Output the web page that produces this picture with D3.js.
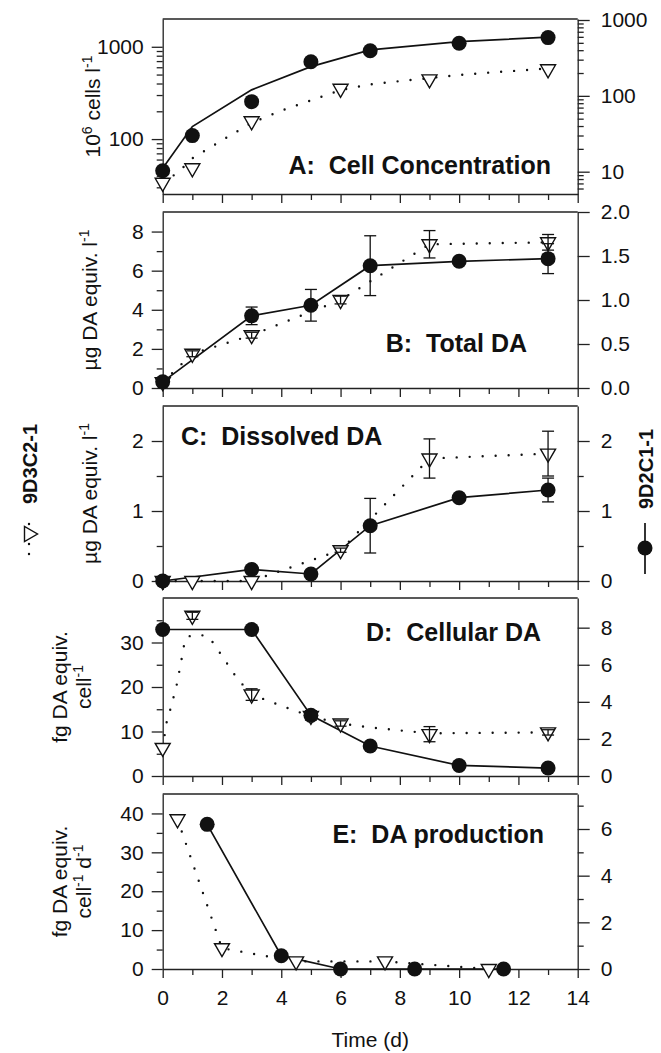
<!DOCTYPE html>
<html>
<head>
<meta charset="utf-8">
<script src="https://cdn.jsdelivr.net/npm/d3@7"></script>
<style>
  body { margin: 0; background: #fff; }
  svg text { font-family: "Liberation Sans", Arial, Helvetica, sans-serif; fill: #111; white-space: pre; }
</style>
</head>
<body>
<div id="chart"></div>
<script>
// ---- values ----
// circles = 9D2C1-1 (right axis), triangles = 9D3C2-1 (left axis)

// A: cell concentration (10^6 cells/l)
var cellDaysCirc = [0, 1, 3, 5, 7, 10, 13];
var cellCirc     = [10.3, 29.9, 83.8, 282, 394, 494, 586];
var cellFitCirc  = [11.1, 39.3, 120, 243, 403, 519, 593];
var cellDaysTri  = [0, 1, 3, 6, 9, 13];
var cellTri      = [33.6, 48.3, 156, 351, 443, 570];
var cellFitDaysTri = [0, 0.5, 1, 2, 3, 4, 5, 6, 7, 8, 9, 10, 11, 12, 13];
var cellFitTri     = [34, 43, 62, 97, 150, 203, 262, 340, 391, 425, 458, 495, 525, 552, 582];

// B: total DA
var totalDaysCirc = [0, 3, 5, 7, 10, 13];
var totalCirc     = [0.07, 0.82, 0.94, 1.39, 1.44, 1.47];
var totalCircErr  = [0, 0.1, 0.18, 0.34, 0.03, 0.17];
var totalDaysTri  = [0, 1, 3, 6, 9, 13];
var totalTri      = [0.3, 1.75, 2.7, 4.5, 7.35, 7.45];
var totalTriErr   = [0, 0.15, 0.15, 0.2, 0.7, 0.4];

// C: dissolved DA
var dissDaysCirc = [0, 3, 5, 7, 10, 13];
var dissCirc     = [0, 0.165, 0.1, 0.79, 1.19, 1.3];
var dissCircErr  = [0, 0.05, 0, 0.39, 0.02, 0.17];
var dissDaysTri  = [0, 1, 3, 6, 9, 13];
var dissTri      = [0, 0, 0, 0.44, 1.75, 1.82];
var dissTriErr   = [0, 0, 0, 0.03, 0.28, 0.32];

// D: cellular DA
var cellularDaysCirc = [0, 3, 5, 7, 10, 13];
var cellularCirc     = [7.9, 7.9, 3.27, 1.62, 0.57, 0.43];
var cellularCircErr  = [0, 0, 0.25, 0, 0, 0];
var cellularDaysTri  = [0, 1, 3, 5, 6, 9, 13];
var cellularTri      = [6.3, 36, 18.3, 13.5, 11.8, 9.4, 9.8];
var cellularTriErr   = [0, 0.8, 1.3, 0, 0.6, 1.7, 0.6];
var cellularFitDaysTri = [0, 0.13, 0.28, 0.47, 0.62, 0.72, 0.81, 1.2, 1.56, 2, 2.5, 3, 4, 5, 6, 7, 9, 11, 13];
var cellularFitTri     = [6.3, 12, 15.5, 20.4, 25.6, 29.4, 31.3, 31.8, 31.3, 27, 22, 18.3, 15.8, 13.4, 11.8, 10.9, 9.6, 9.7, 9.8];

// E: DA production
var prodDaysCirc = [1.5, 4, 6, 8.5, 11.5];
var prodCirc     = [6.2, 0.57, 0, 0, 0];
var prodDaysTri  = [0.5, 2, 4.5, 7.5, 11];
var prodTri      = [38.5, 5.35, 1.95, 1.95, 0];

var dayTicks = d3.range(0, 15, 2);
var dayMinor = d3.range(1, 14, 2);


var svg = d3.select("#chart").append("svg")
    .attr("width", 661)
    .attr("height", 1053);

var x = d3.scaleLinear().domain([0, 14]).range([162.7, 577.7]);

function zip(days, vals, errs) {
  return days.map(function(d, i) {
    return { day: d, v: vals[i], e: errs ? errs[i] : 0 };
  });
}

var panels = [
  {
    top: 19, bottom: 194,
    yL: d3.scaleLog().domain([25.4, 2000]), yR: d3.scaleLog().domain([5.08, 1031]),
    lMajor: [100, 1000], lMinor: [30, 40, 50, 60, 70, 80, 90, 200, 300, 400, 500, 600, 700, 800, 900],
    rMajor: [10, 100, 1000], rMinor: [6, 7, 8, 9, 20, 30, 40, 50, 60, 70, 80, 90, 200, 300, 400, 500, 600, 700, 800, 900],
    lFmt: d3.format("d"), rFmt: d3.format("d"),
    circ: zip(cellDaysCirc, cellCirc), circLine: zip(cellDaysCirc, cellFitCirc),
    tri: zip(cellDaysTri, cellTri), triLine: zip(cellFitDaysTri, cellFitTri),
    title: "A:  Cell Concentration", tx: 551, ty: 174, anchor: "end",
    label: [[["10", 0], ["6", 1], [" cells l", 0], ["-1", 1]]], lx: [100]
  },
  {
    top: 212, bottom: 388,
    yL: d3.scaleLinear().domain([0, 9]), yR: d3.scaleLinear().domain([0, 2]),
    lMajor: [0, 2, 4, 6, 8], lMinor: [1, 3, 5, 7],
    rMajor: [0, 0.5, 1, 1.5, 2], rMinor: [],
    lFmt: d3.format("d"), rFmt: d3.format(".1f"),
    circ: zip(totalDaysCirc, totalCirc, totalCircErr), tri: zip(totalDaysTri, totalTri, totalTriErr),
    title: "B:  Total DA", tx: 527, ty: 352, anchor: "end",
    label: [[["\u00b5g DA equiv. l", 0], ["-1", 1]]], lx: [97]
  },
  {
    top: 406, bottom: 581,
    yL: d3.scaleLinear().domain([0, 2.5]), yR: d3.scaleLinear().domain([0, 2.5]),
    lMajor: [0, 1, 2], lMinor: [0.5, 1.5],
    rMajor: [0, 1, 2], rMinor: [0.5, 1.5],
    lFmt: d3.format("d"), rFmt: d3.format("d"),
    circ: zip(dissDaysCirc, dissCirc, dissCircErr), tri: zip(dissDaysTri, dissTri, dissTriErr),
    title: "C:  Dissolved DA", tx: 181, ty: 445, anchor: "start",
    label: [[["\u00b5g DA equiv. l", 0], ["-1", 1]]], lx: [97]
  },
  {
    top: 598, bottom: 776,
    yL: d3.scaleLinear().domain([0, 40]), yR: d3.scaleLinear().domain([0, 9.6]),
    lMajor: [0, 10, 20, 30], lMinor: [5, 15, 25, 35],
    rMajor: [0, 2, 4, 6, 8], rMinor: [],
    lFmt: d3.format("d"), rFmt: d3.format("d"),
    circ: zip(cellularDaysCirc, cellularCirc, cellularCircErr),
    tri: zip(cellularDaysTri, cellularTri, cellularTriErr), triLine: zip(cellularFitDaysTri, cellularFitTri),
    title: "D:  Cellular DA", tx: 541, ty: 641, anchor: "end",
    label: [[["fg DA equiv.", 0]], [["cell", 0], ["-1", 1]]], lx: [67, 91]
  },
  {
    top: 794, bottom: 969,
    yL: d3.scaleLinear().domain([0, 45]), yR: d3.scaleLinear().domain([0, 7.5]),
    lMajor: [0, 10, 20, 30, 40], lMinor: [5, 15, 25, 35],
    rMajor: [0, 2, 4, 6], rMinor: [1, 3, 5, 7],
    lFmt: d3.format("d"), rFmt: d3.format("d"),
    circ: zip(prodDaysCirc, prodCirc), tri: zip(prodDaysTri, prodTri),
    title: "E:  DA production", tx: 544, ty: 843, anchor: "end",
    label: [[["fg DA equiv.", 0]], [["cell", 0], ["-1", 1], [" d", 0], ["-1", 1]]], lx: [67, 91],
    xLabels: true
  }
];

// text with superscript pieces
function addParts(txt, parts) {
  var up = false;
  parts.forEach(function(p) {
    var t = txt.append("tspan").text(p[0]);
    if (p[1] && !up) { t.attr("dy", -8).attr("font-size", 14); up = true; }
    else if (p[1]) { t.attr("font-size", 14); }
    else if (up) { t.attr("dy", 8); up = false; }
  });
}

var triPath = "M-7.5,-4.5L7.5,-4.5L0,8.5Z";

panels.forEach(function(p) {
  p.yL.range([p.bottom, p.top]);
  p.yR.range([p.bottom, p.top]);
  var g = svg.append("g");

  // frame top
  g.append("line")
      .attr("x1", x(0)).attr("x2", x(14))
      .attr("y1", p.top).attr("y2", p.top)
      .attr("stroke", "#222").attr("stroke-width", 1.3);

  // left axis
  g.append("g").attr("transform", "translate(" + x(0) + ",0)")
      .call(d3.axisLeft(p.yL).tickValues(p.lMajor).tickFormat(p.lFmt).tickSize(11).tickSizeOuter(0).tickPadding(8));
  g.append("g").attr("transform", "translate(" + x(0) + ",0)")
      .call(d3.axisLeft(p.yL).tickValues(p.lMinor).tickFormat("").tickSize(6).tickSizeOuter(0))
      .select(".domain").remove();

  // right axis
  g.append("g").attr("transform", "translate(" + x(14) + ",0)")
      .call(d3.axisRight(p.yR).tickValues(p.rMajor).tickFormat(p.rFmt).tickSize(12).tickSizeOuter(0).tickPadding(11));
  g.append("g").attr("transform", "translate(" + x(14) + ",0)")
      .call(d3.axisRight(p.yR).tickValues(p.rMinor).tickFormat("").tickSize(6).tickSizeOuter(0))
      .select(".domain").remove();

  // x axis
  g.append("g").attr("transform", "translate(0," + p.bottom + ")")
      .call(d3.axisBottom(x).tickValues(dayTicks).tickSize(9).tickSizeOuter(0).tickPadding(12)
        .tickFormat(p.xLabels ? d3.format("d") : ""));
  g.append("g").attr("transform", "translate(0," + p.bottom + ")")
      .call(d3.axisBottom(x).tickValues(dayMinor).tickSize(6).tickFormat(""))
      .select(".domain").remove();

  g.selectAll(".domain, .tick line").attr("stroke", "#222").attr("stroke-width", 1.3);
  g.selectAll(".tick text").attr("font-size", 21).attr("font-family", null).attr("fill", "#111");

  // lines
  var lineL = d3.line().x(function(d) { return x(d.day); }).y(function(d) { return p.yL(d.v); });
  var lineR = d3.line().x(function(d) { return x(d.day); }).y(function(d) { return p.yR(d.v); });

  g.append("path")
      .datum(p.triLine || p.tri)
      .attr("d", lineL)
      .attr("fill", "none")
      .attr("stroke", "#111")
      .attr("stroke-width", 2.4)
      .attr("stroke-linecap", "round")
      .attr("stroke-dasharray", "0,13");

  g.append("path")
      .datum(p.circLine || p.circ)
      .attr("d", lineR)
      .attr("fill", "none")
      .attr("stroke", "#111")
      .attr("stroke-width", 1.7);

  // error bars
  function errBars(data, y) {
    var eb = g.selectAll(null).data(data.filter(function(d) { return d.e > 0; })).enter().append("g");
    eb.append("line")
        .attr("x1", function(d) { return x(d.day); }).attr("x2", function(d) { return x(d.day); })
        .attr("y1", function(d) { return y(d.v - d.e); }).attr("y2", function(d) { return y(d.v + d.e); });
    eb.append("line")
        .attr("x1", function(d) { return x(d.day) - 6; }).attr("x2", function(d) { return x(d.day) + 6; })
        .attr("y1", function(d) { return y(d.v - d.e); }).attr("y2", function(d) { return y(d.v - d.e); });
    eb.append("line")
        .attr("x1", function(d) { return x(d.day) - 6; }).attr("x2", function(d) { return x(d.day) + 6; })
        .attr("y1", function(d) { return y(d.v + d.e); }).attr("y2", function(d) { return y(d.v + d.e); });
    eb.selectAll("line").attr("stroke", "#111").attr("stroke-width", 1.3);
  }

  // triangles
  g.selectAll(".tri").data(p.tri).enter().append("path")
      .attr("class", "tri")
      .attr("d", triPath)
      .attr("transform", function(d) { return "translate(" + x(d.day) + "," + p.yL(d.v) + ")"; })
      .attr("fill", "#fff")
      .attr("stroke", "#111")
      .attr("stroke-width", 1.4);
  errBars(p.tri, p.yL);

  // circles
  g.selectAll(".circ").data(p.circ).enter().append("circle")
      .attr("class", "circ")
      .attr("cx", function(d) { return x(d.day); })
      .attr("cy", function(d) { return p.yR(d.v); })
      .attr("r", 7.5)
      .attr("fill", "#111");
  errBars(p.circ, p.yR);

  // panel title
  g.append("text")
      .attr("x", p.tx).attr("y", p.ty)
      .attr("text-anchor", p.anchor)
      .attr("font-size", 25)
      .attr("font-weight", "bold")
      .text(p.title);

  // y label (one or two lines)
  var yc = (p.top + p.bottom) / 2;
  p.label.forEach(function(parts, i) {
    var t = svg.append("text")
        .attr("transform", "translate(" + p.lx[i] + "," + yc + ") rotate(-90)")
        .attr("text-anchor", "middle")
        .attr("font-size", 21);
    addParts(t, parts);
  });
});

// x title
svg.append("text")
    .attr("x", x(7)).attr("y", 1047)
    .attr("text-anchor", "middle")
    .attr("font-size", 21)
    .text("Time (d)");

// legends (rotated)
var legL = svg.append("g").attr("transform", "translate(37,504) rotate(-90)");
legL.append("line")
    .attr("x1", -50).attr("x2", -10).attr("y1", -8).attr("y2", -8)
    .attr("stroke", "#111").attr("stroke-width", 2.4)
    .attr("stroke-linecap", "round").attr("stroke-dasharray", "0,10");
legL.append("path")
    .attr("d", triPath)
    .attr("transform", "translate(-30,-8)")
    .attr("fill", "#fff").attr("stroke", "#111").attr("stroke-width", 1.4);
legL.append("text")
    .attr("font-size", 20).attr("font-weight", "bold")
    .text("9D3C2-1");

var legR = svg.append("g").attr("transform", "translate(653,509) rotate(-90)");
legR.append("line")
    .attr("x1", -65).attr("x2", -14).attr("y1", -8).attr("y2", -8)
    .attr("stroke", "#111").attr("stroke-width", 1.7);
legR.append("circle")
    .attr("cx", -39).attr("cy", -8).attr("r", 7.5)
    .attr("fill", "#111");
legR.append("text")
    .attr("font-size", 20).attr("font-weight", "bold")
    .text("9D2C1-1");
</script>
</body>
</html>
